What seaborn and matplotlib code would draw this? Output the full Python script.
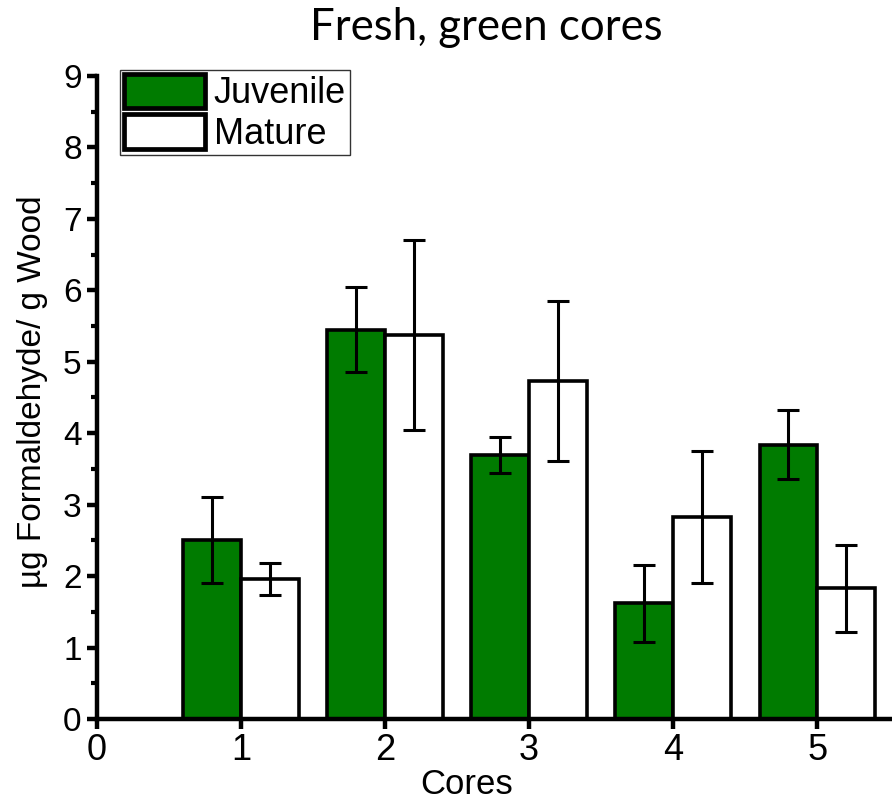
import matplotlib
matplotlib.use("Agg")
import matplotlib.pyplot as plt
import seaborn as sns
import pandas as pd
import numpy as np
from matplotlib.ticker import MultipleLocator
from matplotlib.patches import Patch

cores = [1, 2, 3, 4, 5]
juvenile = [2.51, 5.45, 3.70, 1.62, 3.84]
juvenile_err = [0.60, 0.60, 0.25, 0.54, 0.48]
mature = [1.96, 5.38, 4.73, 2.83, 1.83]
mature_err = [0.23, 1.33, 1.12, 0.92, 0.61]
groups = ["Juvenile", "Mature"]
colors = {"Juvenile": "#007b00", "Mature": "#ffffff"}

df = pd.DataFrame({
    "Cores": cores * 2,
    "value": juvenile + mature,
    "err": juvenile_err + mature_err,
    "Group": ["Juvenile"] * 5 + ["Mature"] * 5,
})

sns.set_style("ticks")
plt.rcParams['font.family'] = ['Liberation Sans', 'DejaVu Sans']
for k in ["text.color", "axes.labelcolor", "xtick.color", "ytick.color", "axes.edgecolor"]:
    plt.rcParams[k] = "black"

fig = plt.figure(figsize=(8.92, 8.05), dpi=100)
ax = fig.add_axes([97/892, 1 - 719/805, 1 - 97/892, (719 - 76)/805])

sns.barplot(data=df, x="Cores", y="value", hue="Group", hue_order=groups,
            palette=colors, native_scale=True, width=0.8, errorbar=None,
            saturation=1, edgecolor="black", linewidth=2.6, ax=ax,
            legend=False, zorder=2)

for cont, g in zip(ax.containers, groups):
    sub = df[df.Group == g]
    xs = [p.get_x() + p.get_width() / 2 for p in cont.patches]
    ax.errorbar(xs, sub["value"], yerr=sub["err"], fmt="none", ecolor="black",
                elinewidth=2.2, capsize=8, capthick=2.2, zorder=3)

ax.set_xlim(0, 5.52)
ax.set_ylim(0, 9)
ax.set_xticks([0, 1, 2, 3, 4, 5])
ax.yaxis.set_major_locator(MultipleLocator(1))
ax.yaxis.set_minor_locator(MultipleLocator(0.5))
for s in ["top", "right"]:
    ax.spines[s].set_visible(False)
for s in ["left", "bottom"]:
    ax.spines[s].set_linewidth(3.2)
    ax.spines[s].set_zorder(4)
ax.tick_params(axis="both", which="major", direction="out", length=7, width=3.2, pad=4)
ax.tick_params(axis="y", which="major", labelsize=24)
ax.tick_params(axis="x", which="major", labelsize=26, pad=3)
ax.tick_params(axis="y", which="minor", direction="out", length=4, width=3)

ax.set_xlabel("Cores", fontsize=25)
ax.xaxis.set_label_coords((467 - 97) / (892 - 97), -(784 - 719) / (719 - 76))
ax.xaxis.label.set_va("center")
ax.set_ylabel("µg Formaldehyde/ g Wood", fontsize=24)
ax.yaxis.set_label_coords(-(97 - 33) / (892 - 97), (719 - 392) / (719 - 76))
ax.yaxis.label.set_va("center")
fig.text(486/892, 1 - 27/805, "Fresh, green cores", ha="center", va="center",
         fontsize=31.5, family=["Lato", "DejaVu Sans"])

handles = [Patch(facecolor=colors[g], edgecolor="black", linewidth=3.4, label=g) for g in groups]
leg = ax.legend(handles=handles, loc="upper left",
                bbox_to_anchor=((120 - 97) / (892 - 97), (719 - 70) / (719 - 76)),
                fontsize=26, frameon=True, fancybox=False, edgecolor="black",
                handlelength=2.25, handleheight=1.1, handletextpad=0.25,
                borderpad=0.1, labelspacing=0.08, borderaxespad=0)
leg.get_frame().set_linewidth(1)

fig.savefig("out.png", dpi=100)
